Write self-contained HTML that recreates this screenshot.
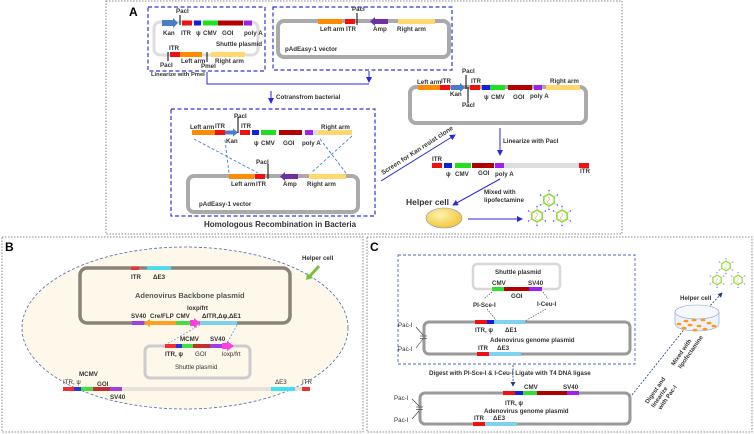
<!DOCTYPE html>
<html><head><meta charset="utf-8"><style>
body{margin:0;background:#fff}
svg{display:block}
text{font-family:"Liberation Sans",sans-serif;font-weight:bold;font-size:6.2px;fill:#333}
</style></head><body>
<svg width="754" height="434" viewBox="0 0 754 434" xmlns="http://www.w3.org/2000/svg">
<defs>
<marker id="ab" markerWidth="6" markerHeight="6" refX="5" refY="3" orient="auto"><path d="M0,0 L6,3 L0,6 z" fill="#2a2ad8"/></marker>
<marker id="an" markerWidth="6" markerHeight="6" refX="5" refY="3" orient="auto"><path d="M0,0 L6,3 L0,6 z" fill="#1f3a80"/></marker>
<radialGradient id="yg" cx="0.4" cy="0.35" r="0.7"><stop offset="0" stop-color="#fff3b0"/><stop offset="1" stop-color="#f2c230"/></radialGradient>
<g id="vir">
<polygon points="0,-6 5.2,-3 5.2,3 0,6 -5.2,3 -5.2,-3" fill="#fff" stroke="#8ee03a" stroke-width="1.6"/>
<path d="M-1,-3 Q2,-1 -1,1 Q-3,3 1,4" stroke="#e0a060" fill="none" stroke-width="0.6"/>
<g stroke="#f0a0e0" stroke-width="0.6"><line x1="0" y1="-6" x2="0" y2="-9"/><line x1="5.2" y1="-3" x2="8" y2="-5"/><line x1="5.2" y1="3" x2="8" y2="5"/><line x1="0" y1="6" x2="0" y2="9"/><line x1="-5.2" y1="3" x2="-8" y2="5"/><line x1="-5.2" y1="-3" x2="-8" y2="-5"/></g>
<g fill="#3050ff"><circle cx="0" cy="-9.5" r="0.7"/><circle cx="8.5" cy="-5" r="0.7"/><circle cx="8.5" cy="5" r="0.7"/><circle cx="0" cy="9.5" r="0.7"/><circle cx="-8.5" cy="5" r="0.7"/><circle cx="-8.5" cy="-5" r="0.7"/></g>
</g>
</defs>

<rect x="106" y="1" width="516" height="233" fill="none" stroke="#888" stroke-dasharray="1.5,1.5" stroke-width="1"/>
<rect x="2" y="237" width="361" height="195" fill="none" stroke="#888" stroke-dasharray="1.5,1.5" stroke-width="1"/>
<rect x="367" y="237" width="385" height="195" fill="none" stroke="#888" stroke-dasharray="1.5,1.5" stroke-width="1"/>
<text x="129" y="16" style="font-size:12px;fill:#000">A</text>
<text x="5" y="251" style="font-size:12px;fill:#000">B</text>
<text x="370" y="251" style="font-size:12px;fill:#000">C</text>

<g fill="none" stroke="#3333dd" stroke-width="1.2" stroke-dasharray="4,2.5">
<rect x="148" y="7" width="117" height="64"/>
<rect x="273" y="7" width="179" height="63"/>
<rect x="171" y="109" width="204" height="107"/>
</g>
<rect x="154" y="22" width="104" height="33" rx="6" fill="none" stroke="#ddd" stroke-width="3"/>
<path d="M162,20 h11 v-2 l5,5 l-5,5 v-2 h-11z" fill="#4a7cc8"/>
<rect x="182" y="20.5" width="10" height="5" fill="#f01010"/>
<rect x="194" y="20.5" width="7" height="5" fill="#1020e0"/>
<rect x="203" y="20.5" width="15" height="5" fill="#20e020"/>
<rect x="218" y="20.5" width="25" height="5" fill="#b00000"/>
<rect x="244" y="20.5" width="8" height="5" fill="#a020f0"/>
<line x1="180" y1="15" x2="180" y2="25" stroke="#000"/>
<text x="176" y="13">PacI</text>
<text x="163" y="35">Kan</text><text x="181" y="35">ITR</text><text x="196" y="35">ψ</text><text x="203" y="35">CMV</text><text x="222" y="35">GOI</text><text x="244" y="35">poly A</text>
<text x="216" y="46">Shuttle plasmid</text>
<rect x="170" y="52" width="10" height="5" fill="#f01010"/>
<rect x="180" y="52" width="22" height="5" fill="#ff8c00"/>
<rect x="211" y="52" width="34" height="5" fill="#ffd870"/>
<line x1="168" y1="52" x2="168" y2="61" stroke="#000"/>
<line x1="207" y1="52" x2="207" y2="62" stroke="#000"/>
<text x="169" y="50">ITR</text><text x="160" y="67">PacI</text><text x="181" y="63">Left arm</text><text x="201" y="68">PmeI</text><text x="215" y="63">Right arm</text>
<text x="151" y="76" style="font-size:5.8px">Linearize with PmeI</text>
<rect x="278" y="21" width="171" height="36" rx="6" fill="none" stroke="#aaa" stroke-width="4"/>
<rect x="318" y="19" width="24" height="5" fill="#ff8c00"/>
<rect x="345" y="19" width="10" height="5" fill="#f01010"/>
<path d="M388,19 h-13 v-2 l-5,4.5 l5,4.5 v-2 h13z" fill="#7030a0"/>
<rect x="398" y="19" width="37" height="5" fill="#ffd870"/>
<line x1="357" y1="13" x2="357" y2="25" stroke="#000"/>
<text x="352" y="11">PacI</text>
<text x="320" y="31">Left arm</text><text x="346" y="31">ITR</text><text x="373" y="31">Amp</text><text x="397" y="31">Right arm</text>
<text x="285" y="51">pAdEasy-1 vector</text>
<path d="M207,72 V84 H369" fill="none" stroke="#2a2ad8" stroke-width="1"/>
<line x1="369" y1="71" x2="369" y2="82" stroke="#2a2ad8" stroke-width="1" marker-end="url(#ab)"/>
<line x1="271" y1="91" x2="271" y2="103" stroke="#2a2ad8" stroke-width="1" marker-end="url(#ab)"/>
<text x="276" y="99">Cotransfrom bacterial</text>
<rect x="192" y="130" width="23" height="5" fill="#ff8c00"/>
<rect x="215" y="130" width="10" height="5" fill="#f01010"/>
<path d="M225,130.5 h8 v-2 l5,4 l-5,4 v-2 h-8z" fill="#4a7cc8"/>
<line x1="238" y1="117" x2="238" y2="133" stroke="#000"/>
<rect x="240" y="130" width="10" height="5" fill="#f01010"/>
<rect x="252" y="130" width="7" height="5" fill="#1020e0"/>
<rect x="261" y="130" width="15" height="5" fill="#20e020"/>
<rect x="279" y="130" width="23" height="5" fill="#b00000"/>
<rect x="305" y="130" width="8" height="5" fill="#a020f0"/>
<rect x="313" y="130" width="5" height="5" fill="#ddd"/>
<rect x="318" y="130" width="34" height="5" fill="#ffd870"/>
<text x="234" y="118">PacI</text>
<text x="190" y="129">Left arm</text><text x="215" y="128">ITR</text><text x="241" y="128">ITR</text><text x="226" y="143">Kan</text>
<text x="254" y="145">ψ</text><text x="261" y="145">CMV</text><text x="283" y="145">GOI</text><text x="302" y="145">poly A</text><text x="321" y="129">Right arm</text>
<g stroke="#4a7cd8" stroke-width="0.9" stroke-dasharray="3,2" fill="none">
<line x1="194" y1="139" x2="258" y2="173"/>
<line x1="225" y1="140" x2="229" y2="173"/>
<line x1="320" y1="139" x2="346" y2="173"/>
<line x1="352" y1="136" x2="311" y2="173"/>
</g>
<rect x="188" y="176" width="170" height="36" rx="6" fill="none" stroke="#aaa" stroke-width="4"/>
<rect x="229" y="174" width="25" height="5" fill="#ff8c00"/>
<rect x="255" y="174" width="10" height="5" fill="#f01010"/>
<line x1="268" y1="164" x2="268" y2="179" stroke="#000"/>
<path d="M298,174 h-13 v-2 l-5,4.5 l5,4.5 v-2 h13z" fill="#7030a0"/>
<rect x="309" y="174" width="37" height="5" fill="#ffd870"/>
<text x="256" y="164">PacI</text>
<text x="231" y="186">Left arm</text><text x="256" y="186">ITR</text><text x="283" y="186">Amp</text><text x="307" y="186">Right arm</text>
<text x="199" y="206">pAdEasy-1 vector</text>
<text x="204" y="227" style="font-size:8px">Homologous Recombination  in Bacteria</text>
<rect x="410" y="87" width="176" height="36" rx="6" fill="none" stroke="#aaa" stroke-width="4"/>
<rect x="418" y="85" width="22" height="5" fill="#ff8c00"/>
<rect x="440" y="85" width="10" height="5" fill="#f01010"/>
<path d="M451,85 h9 v-2 l5,4.5 l-5,4.5 v-2 h-9z" fill="#4a7cc8"/>
<line x1="466" y1="75" x2="466" y2="89" stroke="#000"/>
<line x1="468" y1="87" x2="468" y2="103" stroke="#000"/>
<rect x="470" y="85" width="10" height="5" fill="#f01010"/>
<rect x="482" y="85" width="8" height="5" fill="#1020e0"/>
<rect x="490" y="85" width="15" height="5" fill="#20e020"/>
<rect x="508" y="85" width="24" height="5" fill="#b00000"/>
<rect x="534" y="85" width="8" height="5" fill="#a020f0"/>
<rect x="546" y="85" width="34" height="5" fill="#ffd870"/>
<text x="462" y="73">PacI</text><text x="417" y="84">Left arm</text><text x="441" y="83">ITR</text><text x="471" y="83">ITR</text>
<text x="450" y="96">Kan</text><text x="462" y="107">PacI</text><text x="484" y="99">ψ</text><text x="491" y="99">CMV</text><text x="513" y="99">GOI</text><text x="530" y="98">poly A</text><text x="550" y="83">Right arm</text>
<line x1="500" y1="128" x2="500" y2="155" stroke="#2a2ad8" stroke-width="1" marker-end="url(#ab)"/>
<text x="503" y="143">Linearize with PacI</text>
<rect x="432" y="163" width="10" height="5" fill="#f01010"/>
<rect x="444" y="163" width="8" height="5" fill="#1020e0"/>
<rect x="455" y="163" width="16" height="5" fill="#20e020"/>
<rect x="472" y="163" width="22" height="5" fill="#b00000"/>
<rect x="495" y="163" width="9" height="5" fill="#a020f0"/>
<rect x="504" y="163" width="75" height="5" fill="#ddd"/>
<rect x="579" y="163" width="10" height="5" fill="#f01010"/>
<text x="432" y="161">ITR</text><text x="446" y="176">ψ</text><text x="455" y="176">CMV</text><text x="478" y="175">GOI</text><text x="495" y="176">poly A</text><text x="580" y="173">ITR</text>
<line x1="381" y1="181" x2="455" y2="135" stroke="#2a2ad8" stroke-width="1" marker-end="url(#ab)"/>
<text x="0" y="0" transform="translate(383,175) rotate(-33)" style="font-size:6.5px">Screen for Kan resist clone</text>
<line x1="500" y1="179" x2="453" y2="205" stroke="#2a2ad8" stroke-width="1" marker-end="url(#ab)"/>
<text x="484" y="194">Mixed with</text><text x="484" y="202">lipofectamine</text>
<text x="406" y="205" style="font-size:8.5px">Helper  cell</text>
<ellipse cx="444" cy="218" rx="18" ry="10" fill="url(#yg)" stroke="#8898c0" stroke-width="0.6"/>
<line x1="468" y1="219" x2="522" y2="219" stroke="#2a2ad8" stroke-width="1" marker-end="url(#ab)"/>
<use href="#vir" x="549" y="200"/><use href="#vir" x="537" y="216"/><use href="#vir" x="562" y="216"/>

<ellipse cx="185" cy="328" rx="163" ry="81" fill="#fdf8ea" stroke="#4a6ab8" stroke-width="0.8" stroke-dasharray="3,2"/>
<text x="302" y="260">Helper cell</text>
<line x1="319" y1="266" x2="310" y2="276" stroke="#7cc040" stroke-width="3"/>
<path d="M306,280 l1,-7 l6,5z" fill="#7cc040"/>
<rect x="80" y="268" width="210" height="55" rx="7" fill="none" stroke="#8a8478" stroke-width="3.5"/>
<rect x="131" y="266.5" width="8" height="3.5" fill="#f03030"/>
<rect x="147" y="266.5" width="24" height="3.5" fill="#40e0f0"/>
<text x="131" y="279">ITR</text><text x="153" y="279">ΔE3</text>
<text x="135" y="298" style="font-size:7.5px;fill:#555">Adenovirus Backbone plasmid</text>
<rect x="132" y="321" width="12" height="4" fill="#a040e0"/>
<path d="M176,321 h-26 v-2 l-6,4 l6,4 v-2 h26z" fill="#ffa020"/>
<rect x="176" y="321" width="14" height="4" fill="#40e040"/>
<path d="M190,320 h4 v-2 l6,5 l-6,5 v-2 h-4z" fill="#ff40e0"/>
<rect x="200" y="321" width="37" height="4" fill="#80d0e8"/>
<text x="131" y="318">SV40</text><text x="150" y="318">Cre/FLP</text><text x="176" y="318">CMV</text><text x="187" y="310">loxp/frt</text><text x="202" y="318">ΔITR,Δψ,ΔE1</text>
<g stroke="#6a8ad0" stroke-width="0.7" stroke-dasharray="2,1.5"><line x1="200" y1="325" x2="165" y2="345"/><line x1="237" y1="325" x2="226" y2="345"/></g>
<rect x="145" y="346" width="105" height="32" rx="5" fill="none" stroke="#ccc" stroke-width="3"/>
<rect x="165" y="344" width="11" height="4" fill="#f03030"/>
<rect x="176" y="344" width="6" height="4" fill="#3030e0"/>
<rect x="182" y="344" width="11" height="4" fill="#40e040"/>
<rect x="193" y="344" width="17" height="4" fill="#c03030"/>
<rect x="210" y="344" width="12" height="4" fill="#a040e0"/>
<path d="M222,343 h5 v-2 l7,5 l-7,5 v-2 h-5z" fill="#ff40e0"/>
<text x="180" y="341">MCMV</text><text x="210" y="341">SV40</text><text x="165" y="356">ITR, ψ</text><text x="195" y="356" style="font-weight:normal">GOI</text><text x="222" y="356" style="font-weight:normal">loxp/frt</text>
<text x="175" y="369" style="font-weight:normal">Shuttle plasmid</text>
<rect x="63" y="387" width="247" height="4" fill="#e6e2da"/>
<rect x="63" y="387" width="11" height="4" fill="#f03030"/>
<rect x="74" y="387" width="7" height="4" fill="#3030e0"/>
<rect x="81" y="387" width="12" height="4" fill="#40e040"/>
<rect x="93" y="387" width="17" height="4" fill="#c03030"/>
<rect x="110" y="387" width="12" height="4" fill="#a040e0"/>
<rect x="271" y="387" width="24" height="4" fill="#40e0f0"/>
<rect x="302" y="387" width="8" height="4" fill="#f03030"/>
<text x="63" y="384" style="font-weight:normal">ITR, ψ</text><text x="79" y="376">MCMV</text><text x="97" y="386">GOI</text><text x="110" y="399">SV40</text><text x="275" y="384" style="font-weight:normal">ΔE3</text><text x="302" y="384" style="font-weight:normal">ITR</text>

<rect x="398" y="255" width="237" height="109" fill="none" stroke="#4a6ab8" stroke-width="0.9" stroke-dasharray="3,2"/>
<rect x="473" y="264" width="87" height="25" rx="4" fill="none" stroke="#d8d8d8" stroke-width="2.5"/>
<text x="495" y="274">Shuttle plasmid</text>
<rect x="492" y="287" width="12" height="4" fill="#30e030"/>
<rect x="504" y="287" width="25" height="4" fill="#b00000"/>
<rect x="529" y="287" width="13" height="4" fill="#a020f0"/>
<text x="492" y="285">CMV</text><text x="528" y="285">SV40</text><text x="511" y="298">GOI</text>
<g stroke="#333" stroke-width="0.6" stroke-dasharray="1.5,1.2"><line x1="492" y1="292" x2="484" y2="299"/><line x1="487" y1="309" x2="496" y2="320"/><line x1="543" y1="292" x2="548" y2="299"/><line x1="546" y1="309" x2="525" y2="321"/></g>
<text x="473" y="307">PI-Sce-I</text><text x="537" y="306">I-Ceu-I</text>
<rect x="424" y="322" width="206" height="32" rx="5" fill="none" stroke="#999" stroke-width="3"/>
<rect x="475" y="320" width="12" height="4" fill="#f01010"/>
<rect x="487" y="320" width="7" height="4" fill="#1020e0"/>
<rect x="494" y="320" width="31" height="4" fill="#80d0f0"/>
<text x="475" y="332">ITR, ψ</text><text x="505" y="332">ΔE1</text>
<text x="490" y="342">Adenovirus genome plasmid</text>
<rect x="477" y="352" width="12" height="4" fill="#f01010"/>
<rect x="489" y="352" width="32" height="4" fill="#80d0f0"/>
<text x="478" y="350">ITR</text><text x="497" y="350">ΔE3</text>
<text x="398" y="327" style="font-weight:normal">Pac-I</text><text x="398" y="351" style="font-weight:normal">Pac-I</text>
<g stroke="#333" stroke-width="0.6"><line x1="416" y1="327" x2="423" y2="335"/><line x1="416" y1="348" x2="423" y2="339"/><line x1="420" y1="336" x2="427" y2="336"/><line x1="420" y1="338.5" x2="427" y2="338.5"/></g>
<text x="429" y="375">Digest with PI-Sce-I &amp; I-Ceu-I  Ligate with T4 DNA ligase</text>
<line x1="513" y1="365" x2="513" y2="386" stroke="#1f3a80" stroke-width="0.8" stroke-dasharray="2,1.5" marker-end="url(#an)"/>
<rect x="420" y="393" width="210" height="31" rx="5" fill="none" stroke="#999" stroke-width="3"/>
<rect x="503" y="391" width="12" height="4" fill="#f01010"/>
<rect x="515" y="391" width="8" height="4" fill="#1020e0"/>
<rect x="523" y="391" width="14" height="4" fill="#30e030"/>
<rect x="537" y="391" width="30" height="4" fill="#b00000"/>
<rect x="567" y="391" width="12" height="4" fill="#a020f0"/>
<text x="524" y="389">CMV</text><text x="563" y="389">SV40</text><text x="505" y="405">ITR, ψ</text>
<text x="484" y="413">Adenovirus genome plasmid</text>
<rect x="473" y="422" width="12" height="4" fill="#f01010"/>
<rect x="485" y="422" width="32" height="4" fill="#80d0f0"/>
<text x="474" y="420">ITR</text><text x="493" y="420">ΔE3</text>
<text x="394" y="400" style="font-weight:normal">Pac-I</text><text x="394" y="422" style="font-weight:normal">Pac-I</text>
<g stroke="#333" stroke-width="0.6"><line x1="412" y1="399" x2="419" y2="406"/><line x1="412" y1="419" x2="419" y2="411"/><line x1="416" y1="407" x2="423" y2="407"/><line x1="416" y1="409.5" x2="423" y2="409.5"/></g>
<line x1="632" y1="395" x2="690" y2="322" stroke="#1f3a80" stroke-width="0.8" stroke-dasharray="2,1.5"/>
<line x1="708" y1="308" x2="722" y2="293" stroke="#1f3a80" stroke-width="0.8" stroke-dasharray="2,1.5" marker-end="url(#an)"/>
<text x="0" y="0" transform="translate(648,404) rotate(-55)" style="font-size:6px">Digest and</text>
<text x="0" y="0" transform="translate(654,408) rotate(-55)" style="font-size:6px">linearize</text>
<text x="0" y="0" transform="translate(661,410) rotate(-55)" style="font-size:6px">with Pac-I</text>
<text x="0" y="0" transform="translate(674,366) rotate(-55)" style="font-size:6px">Mixed with</text>
<text x="0" y="0" transform="translate(681,369) rotate(-55)" style="font-size:6px">lipofectamine</text>
<text x="680" y="300">Helper cell</text>
<path d="M675,312 v12 a22,7 0 0 0 44,0 v-12" fill="#eef3fb" stroke="#8aa0d0" stroke-width="0.6"/>
<ellipse cx="697" cy="312" rx="22" ry="7" fill="#f5f8fd" stroke="#8aa0d0" stroke-width="0.6"/>
<g fill="#ff9a10"><ellipse cx="686" cy="321" rx="2.5" ry="1.3"/><ellipse cx="694" cy="320" rx="2.5" ry="1.3"/><ellipse cx="703" cy="320" rx="2.5" ry="1.3"/><ellipse cx="709" cy="323" rx="2.5" ry="1.3"/><ellipse cx="679" cy="324" rx="2.5" ry="1.3"/><ellipse cx="690" cy="325" rx="2.5" ry="1.3"/><ellipse cx="699" cy="326" rx="2.5" ry="1.3"/><ellipse cx="714" cy="326" rx="2.5" ry="1.3"/><ellipse cx="684" cy="328" rx="2.5" ry="1.3"/><ellipse cx="695" cy="330" rx="2.5" ry="1.3"/><ellipse cx="705" cy="329" rx="2.5" ry="1.3"/></g>
<use href="#vir" transform="translate(726,266) scale(0.8)"/><use href="#vir" transform="translate(717,280) scale(0.8)"/><use href="#vir" transform="translate(738,280) scale(0.8)"/>
</svg>
</body></html>
